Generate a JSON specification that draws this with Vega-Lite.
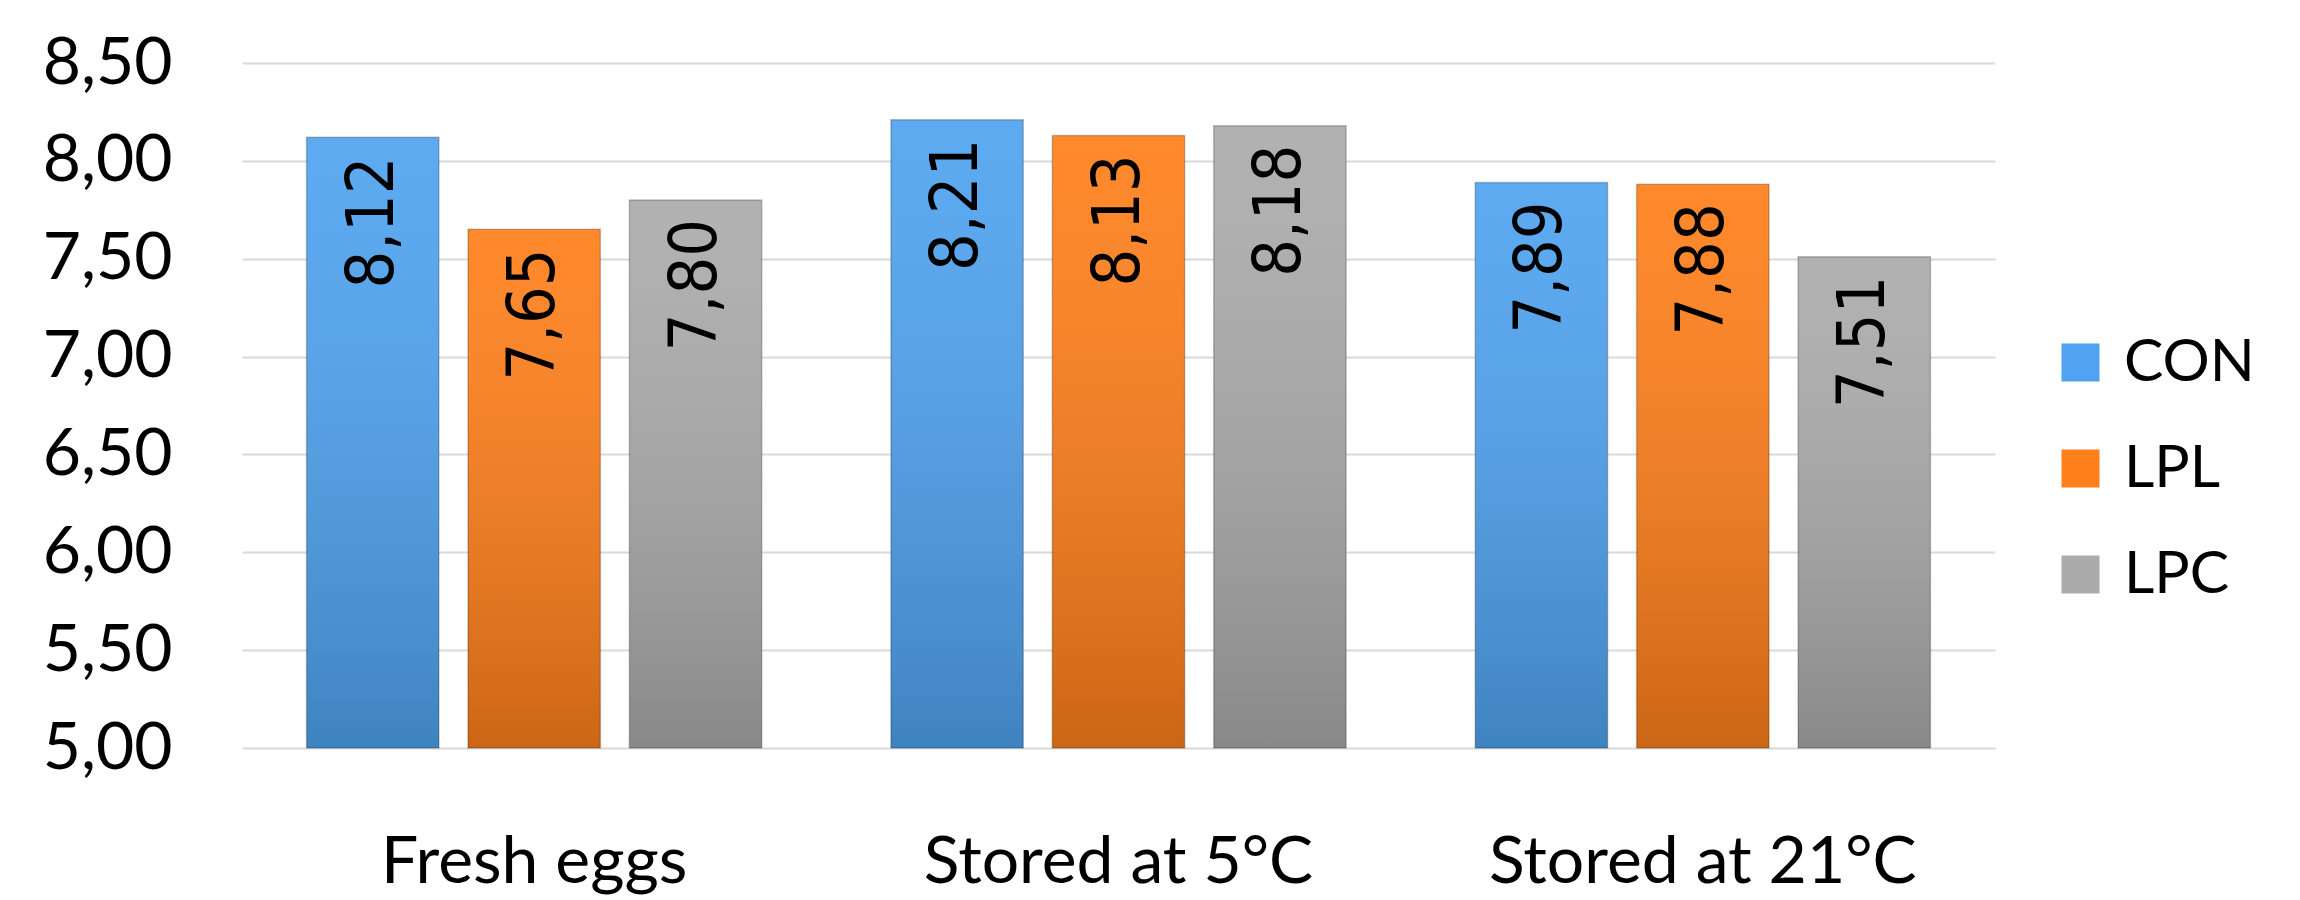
{
  "$schema": "https://vega.github.io/schema/vega-lite/v6.json",
  "width": 1753,
  "height": 685,
  "autosize": "none",
  "padding": {"left": 242, "top": 63, "right": 305, "bottom": 152},
  "background": "white",
  "config": {
    "locale": {"number": {"decimal": ",", "thousands": ".", "grouping": [3], "currency": ["", " €"]}},
    "view": {"stroke": null},
    "font": "Lato"
  },
  "data": {
    "values": [
      {"condition": "Fresh eggs", "group": "CON", "value": 8.12},
      {"condition": "Fresh eggs", "group": "LPL", "value": 7.65},
      {"condition": "Fresh eggs", "group": "LPC", "value": 7.80},
      {"condition": "Stored at 5°C", "group": "CON", "value": 8.21},
      {"condition": "Stored at 5°C", "group": "LPL", "value": 8.13},
      {"condition": "Stored at 5°C", "group": "LPC", "value": 8.18},
      {"condition": "Stored at 21°C", "group": "CON", "value": 7.89},
      {"condition": "Stored at 21°C", "group": "LPL", "value": 7.88},
      {"condition": "Stored at 21°C", "group": "LPC", "value": 7.51}
    ]
  },
  "encoding": {
    "x": {
      "field": "condition", "type": "nominal", "sort": null,
      "scale": {"paddingInner": 0.221, "paddingOuter": 0.1105},
      "axis": {"title": null, "labelAngle": 0, "labelFontSize": 66, "labelColor": "black", "labelPadding": 82, "labelLimit": 0, "ticks": false, "domain": false, "labelFont": "Lato"}
    },
    "xOffset": {
      "field": "group", "type": "nominal", "sort": ["CON", "LPL", "LPC"],
      "scale": {"paddingInner": 0.18, "paddingOuter": 0}
    },
    "y": {
      "field": "value", "type": "quantitative",
      "scale": {"domain": [5, 8.5], "nice": false, "zero": false},
      "axis": {"title": null, "values": [5, 5.5, 6, 6.5, 7, 7.5, 8, 8.5], "format": ".2f", "labelFontSize": 66, "labelColor": "black", "labelPadding": 70, "ticks": false, "domain": false, "grid": true, "gridColor": "#d9d9d9", "gridWidth": 2, "labelFont": "Lato"}
    }
  },
  "layer": [
    {
      "mark": {"type": "bar"},
      "encoding": {
        "y2": {"datum": 5},
        "color": {
          "field": "group", "type": "nominal", "sort": ["CON", "LPL", "LPC"],
          "scale": {"domain": ["CON", "LPL", "LPC"], "range": ["#4fa3f0", "#ff7f1a", "#ababab"]},
          "legend": {
            "title": null, "orient": "none", "legendX": 1809, "legendY": 270,
            "symbolType": "square", "symbolSize": 1444, "symbolStrokeWidth": 0,
            "labelFontSize": 59, "labelFont": "Lato", "labelColor": "black",
            "labelOffset": 14, "rowPadding": 46
          }
        }
      }
    },
    {
      "mark": {
        "type": "bar",
        "fill": {"gradient": "linear", "x1": 0, "y1": 0, "x2": 0, "y2": 1,
          "stops": [{"offset": 0, "color": "rgba(255,255,255,0.08)"}, {"offset": 1, "color": "rgba(0,0,0,0.2)"}]},
        "stroke": "rgba(0,0,0,0.22)", "strokeWidth": 1.5
      },
      "encoding": {"y2": {"datum": 5}}
    },
    {
      "mark": {"type": "text", "angle": 270, "align": "right", "baseline": "middle", "dx": -19, "font": "Liberation Sans Narrow, DejaVu Sans Condensed, DejaVu Sans", "fontSize": 66, "color": "black"},
      "encoding": {"text": {"field": "value", "type": "quantitative", "format": ".2f"}}
    }
  ]
}
